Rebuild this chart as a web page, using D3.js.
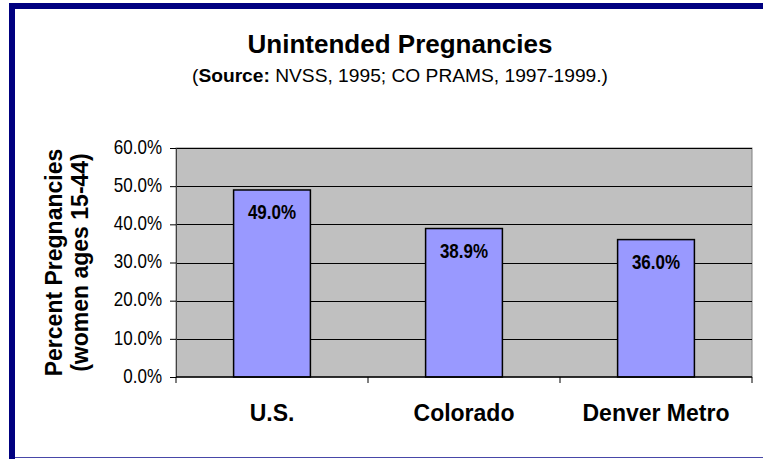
<!DOCTYPE html>
<html>
<head>
<meta charset="utf-8">
<script src="https://cdn.jsdelivr.net/npm/d3@7"></script>
<style>
  body { margin: 0; background: #fff; }
  text { font-family: Arial, "Liberation Sans", sans-serif; fill: #000; }
</style>
</head>
<body>
<script>
var categories = ['U.S.', 'Colorado', 'Denver Metro'];
var values = [49.0, 38.9, 36.0];
var yTicks = [0, 10, 20, 30, 40, 50, 60];

var width = 763, height = 459;
var margin = {left: 176, right: 11, top: 148, bottom: 82};
var plotW = width - margin.left - margin.right;
var plotH = height - margin.top - margin.bottom;

var svg = d3.select("body").append("svg").attr("width", width).attr("height", height);

// frame
svg.append("rect").attr("x", 9).attr("y", 3).attr("width", width - 9).attr("height", 6).attr("fill", "#000080");
svg.append("rect").attr("x", 9).attr("y", 3).attr("width", 6).attr("height", height - 3).attr("fill", "#000080");
svg.append("line").attr("x1", 15).attr("x2", width).attr("y1", 457.5).attr("y2", 457.5)
   .attr("stroke", "#4848a8").attr("stroke-width", 1);

var x = d3.scaleBand().domain(categories).range([0, plotW]).paddingInner(0.6).paddingOuter(0.3);
var y = d3.scaleLinear().domain([0, 60]).range([plotH, 0]);

var g = svg.append("g").attr("transform", "translate(" + margin.left + "," + margin.top + ")");

g.append("rect").attr("width", plotW).attr("height", plotH).attr("fill", "#c0c0c0")
 .attr("stroke", "#808080").attr("stroke-width", 1);

g.selectAll(".grid").data(yTicks.slice(1)).enter().append("line")
 .attr("x1", 0).attr("x2", plotW)
 .attr("y1", function(d) { return Math.round(y(d)) + 0.5; })
 .attr("y2", function(d) { return Math.round(y(d)) + 0.5; })
 .attr("stroke", "#000").attr("stroke-width", 1);

g.selectAll(".bar").data(values).enter().append("rect")
 .attr("x", function(d, i) { return x(categories[i]); })
 .attr("y", function(d) { return y(d); })
 .attr("width", x.bandwidth())
 .attr("height", function(d) { return plotH - y(d); })
 .attr("fill", "#9999ff").attr("stroke", "#000").attr("stroke-width", 1.5);

g.selectAll(".blabel").data(values).enter().append("text")
 .attr("transform", function(d, i) {
   return "translate(" + (x(categories[i]) + x.bandwidth() / 2) + "," + (y(d) + 29) + ") scale(1,1.2)";
 })
 .attr("text-anchor", "middle").attr("font-weight", "bold").attr("font-size", 17)
 .text(function(d) { return d.toFixed(1) + "%"; });

// y axis
var yAxis = d3.axisLeft(y).tickValues(yTicks).tickSize(6).tickPadding(8)
  .tickFormat(function(d) { return d.toFixed(1) + "%"; });
var ya = g.append("g").call(yAxis);
ya.select(".domain").attr("stroke", "#404040");
ya.selectAll("text").attr("font-size", 17).attr("dy", "0.26em")
  .attr("transform", "scale(1,1.2)")
  .attr("font-family", "Arial, 'Liberation Sans', sans-serif");

// x axis: ticks at category boundaries
var xa = g.append("g").attr("transform", "translate(0," + plotH + ")");
xa.append("line").attr("x1", 0).attr("x2", plotW).attr("y1", 0).attr("y2", 0).attr("stroke", "#000").attr("stroke-width", 1.5);
xa.selectAll(".xt").data(d3.range(categories.length + 1)).enter().append("line")
  .attr("x1", function(d) { return d * plotW / categories.length; })
  .attr("x2", function(d) { return d * plotW / categories.length; })
  .attr("y1", 0).attr("y2", 6).attr("stroke", "#000");
xa.selectAll(".xl").data(categories).enter().append("text")
  .attr("x", function(d) { return x(d) + x.bandwidth() / 2; })
  .attr("y", 44)
  .attr("text-anchor", "middle").attr("font-weight", "bold").attr("font-size", 23)
  .text(function(d) { return d; });

// titles
svg.append("text").attr("x", 400).attr("y", 53).attr("text-anchor", "middle")
  .attr("font-weight", "bold").attr("font-size", 26).text("Unintended Pregnancies");
var sub = svg.append("text").attr("x", 400).attr("y", 82).attr("text-anchor", "middle")
  .attr("font-size", 18).attr("textLength", 416).attr("lengthAdjust", "spacingAndGlyphs");
sub.append("tspan").text("(");
sub.append("tspan").attr("font-weight", "bold").text("Source:");
sub.append("tspan").text(" NVSS, 1995; CO PRAMS, 1997-1999.)");

var yt = svg.append("text").attr("transform", "translate(62," + (margin.top + plotH / 2) + ") rotate(-90)")
  .attr("text-anchor", "middle").attr("font-weight", "bold").attr("font-size", 23);
yt.append("tspan").attr("x", 0).attr("y", 0).text("Percent Pregnancies");
yt.append("tspan").attr("x", 0).attr("y", 26).text("(women ages 15-44)");
</script>
</body>
</html>
